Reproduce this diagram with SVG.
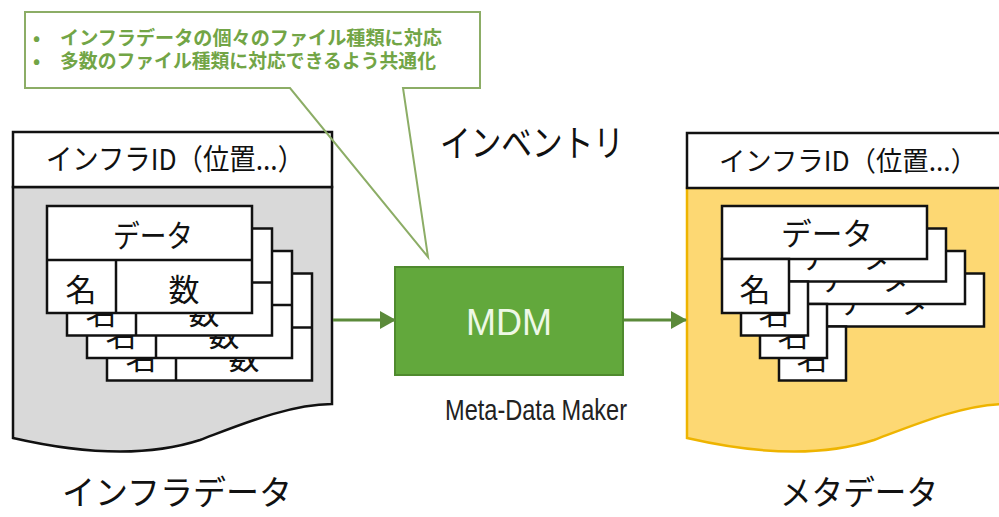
<svg xmlns="http://www.w3.org/2000/svg" width="999" height="517" viewBox="0 0 999 517">
  <style>
    .jp { font-family: "Noto Sans CJK JP", "Noto Sans", sans-serif; fill: #111; }
    .card { fill: #fff; stroke: #111; stroke-width: 2.5; }
    .cardline { stroke: #111; stroke-width: 2.5; }
    .cardtxt { font-family: "Noto Sans CJK JP", sans-serif; font-size: 31px; fill: #111; text-anchor: middle; }
    .hdr { fill: #fff; stroke: #111; stroke-width: 2.5; }
    .conn { stroke: #5b8a3a; stroke-width: 3; fill: none; }
    .callout-txt { font-family: "Noto Sans CJK JP", sans-serif; font-size: 19px; font-weight: bold; fill: #72a546; }
  </style>
  <defs>
    <marker id="arrow" markerUnits="userSpaceOnUse" markerWidth="16" markerHeight="18" refX="15" refY="9" orient="auto">
      <path d="M0,0 L16,9 L0,18 Z" fill="#5b8a3a"/>
    </marker>
  </defs>

  <!-- Left document: インフラデータ -->
  <g id="infra-data">
    <path d="M13,187 H332 V404 C290,404 240,425 200,440 C160,453 100,458 13,438 Z" fill="#d9d9d9" stroke="#111" stroke-width="2.5"/>
    <rect class="hdr" x="13" y="132" width="319" height="55"/>
    <text class="jp" x="46" y="170" font-size="29" textLength="258" lengthAdjust="spacingAndGlyphs">インフラID（位置...）</text>
    <g transform="translate(107,273.5)">
      <rect class="card" width="205" height="107"/>
      <line class="cardline" x1="0" y1="54" x2="205" y2="54"/>
      <line class="cardline" x1="69" y1="54" x2="69" y2="107"/>
      <text class="cardtxt" x="106" y="41" textLength="80" lengthAdjust="spacingAndGlyphs">データ</text>
      <text class="cardtxt" x="34" y="95">名</text>
      <text class="cardtxt" x="137" y="95">数</text>
    </g>
    <g transform="translate(87,251)">
      <rect class="card" width="205" height="107"/>
      <line class="cardline" x1="0" y1="54" x2="205" y2="54"/>
      <line class="cardline" x1="69" y1="54" x2="69" y2="107"/>
      <text class="cardtxt" x="106" y="41" textLength="80" lengthAdjust="spacingAndGlyphs">データ</text>
      <text class="cardtxt" x="34" y="95">名</text>
      <text class="cardtxt" x="137" y="95">数</text>
    </g>
    <g transform="translate(67,228.5)">
      <rect class="card" width="205" height="107"/>
      <line class="cardline" x1="0" y1="54" x2="205" y2="54"/>
      <line class="cardline" x1="69" y1="54" x2="69" y2="107"/>
      <text class="cardtxt" x="106" y="41" textLength="80" lengthAdjust="spacingAndGlyphs">データ</text>
      <text class="cardtxt" x="34" y="95">名</text>
      <text class="cardtxt" x="137" y="95">数</text>
    </g>
    <g transform="translate(47,206)">
      <rect class="card" width="205" height="107"/>
      <line class="cardline" x1="0" y1="54" x2="205" y2="54"/>
      <line class="cardline" x1="69" y1="54" x2="69" y2="107"/>
      <text class="cardtxt" x="106" y="41" textLength="80" lengthAdjust="spacingAndGlyphs">データ</text>
      <text class="cardtxt" x="34" y="95">名</text>
      <text class="cardtxt" x="137" y="95">数</text>
    </g>
    <text class="jp" x="62" y="505" font-size="34" textLength="230" lengthAdjust="spacingAndGlyphs">インフラデータ</text>
  </g>

  <!-- Right document: メタデータ -->
  <g id="meta-data">
    <path d="M687,188 H1006 V404 C964,404 914,425 874,440 C834,453 774,458 687,438 Z" fill="#fdd873" stroke="#eeb400" stroke-width="2.5"/>
    <rect class="hdr" x="687" y="133" width="330" height="55"/>
    <text class="jp" x="719" y="171" font-size="27" textLength="258" lengthAdjust="spacingAndGlyphs">インフラID（位置...）</text>
    <g transform="translate(779,273.5)">
      <rect class="card" width="205" height="53"/>
      <rect class="card" y="53" width="67" height="54"/>
      <text class="cardtxt" x="105" y="39" textLength="92" lengthAdjust="spacingAndGlyphs">データ</text>
      <text class="cardtxt" x="33" y="95">名</text>
    </g>
    <g transform="translate(760,251)">
      <rect class="card" width="205" height="53"/>
      <rect class="card" y="53" width="67" height="54"/>
      <text class="cardtxt" x="105" y="39" textLength="92" lengthAdjust="spacingAndGlyphs">データ</text>
      <text class="cardtxt" x="33" y="95">名</text>
    </g>
    <g transform="translate(741,228.5)">
      <rect class="card" width="205" height="53"/>
      <rect class="card" y="53" width="67" height="54"/>
      <text class="cardtxt" x="105" y="39" textLength="92" lengthAdjust="spacingAndGlyphs">データ</text>
      <text class="cardtxt" x="33" y="95">名</text>
    </g>
    <g transform="translate(722,206)">
      <rect class="card" width="205" height="53"/>
      <rect class="card" y="53" width="67" height="54"/>
      <text class="cardtxt" x="105" y="39" textLength="92" lengthAdjust="spacingAndGlyphs">データ</text>
      <text class="cardtxt" x="33" y="95">名</text>
    </g>
    <text class="jp" x="780" y="505" font-size="34" textLength="158" lengthAdjust="spacingAndGlyphs">メタデータ</text>
  </g>

  <!-- MDM process -->
  <g id="mdm">
    <rect x="395" y="267" width="228" height="108" fill="#62a83c" stroke="#4f8a2e" stroke-width="2"/>
    <text x="509" y="335" font-family="'Liberation Sans', Arial, sans-serif" font-size="36" fill="#eef8e6" text-anchor="middle">MDM</text>
    <text x="445" y="420" font-family="'Liberation Sans', Arial, sans-serif" font-size="30" fill="#222" textLength="182" lengthAdjust="spacingAndGlyphs">Meta-Data Maker</text>
  </g>

  <!-- Inventory label -->
  <g id="inventory">
    <text class="jp" x="440" y="157" font-size="37" textLength="184" lengthAdjust="spacingAndGlyphs">インベントリ</text>
  </g>

  <!-- Callout -->
  <g id="callout">
    <path d="M25,12 H480 V88 H403 L428,257 L290,88 H25 Z" fill="none" stroke="#8cad66" stroke-width="2"/>
    <text class="callout-txt" x="33" y="45">•</text>
    <text class="callout-txt" x="60" y="45" textLength="382" lengthAdjust="spacingAndGlyphs">インフラデータの個々のファイル種類に対応</text>
    <text class="callout-txt" x="33" y="68">•</text>
    <text class="callout-txt" x="60" y="68" textLength="376" lengthAdjust="spacingAndGlyphs">多数のファイル種類に対応できるよう共通化</text>
  </g>

  <!-- Connectors -->
  <g id="connectors">
    <line class="conn" x1="333" y1="320" x2="395" y2="320" marker-end="url(#arrow)"/>
    <line class="conn" x1="624" y1="320" x2="686" y2="320" marker-end="url(#arrow)"/>
  </g>
</svg>
